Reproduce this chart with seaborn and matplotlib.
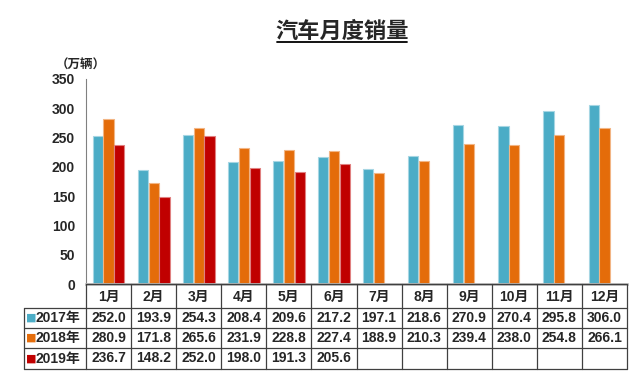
import numpy as np
import pandas as pd
import matplotlib
matplotlib.use("Agg")
import matplotlib.pyplot as plt
import seaborn as sns

months = ["1月", "2月", "3月", "4月", "5月", "6月", "7月", "8月", "9月", "10月", "11月", "12月"]
years = ["2017年", "2018年", "2019年"]
sales_2017 = [252.0, 193.9, 254.3, 208.4, 209.6, 217.2, 197.1, 218.6, 270.9, 270.4, 295.8, 306.0]
sales_2018 = [280.9, 171.8, 265.6, 231.9, 228.8, 227.4, 188.9, 210.3, 239.4, 238.0, 254.8, 266.1]
sales_2019 = [236.7, 148.2, 252.0, 198.0, 191.3, 205.6, None, None, None, None, None, None]
colors = ["#4BACC6", "#E46C0A", "#C00000"]
edges = ["#A6D6E3", "#F2B584", "#E08080"]

rows = []
for yr, vals in zip(years, [sales_2017, sales_2018, sales_2019]):
    for m, v in zip(months, vals):
        rows.append({"month": m, "year": yr, "sales": np.nan if v is None else v})
df = pd.DataFrame(rows)

sns.set_style("white")
plt.rcParams["font.family"] = ["Liberation Sans", "Noto Sans CJK SC", "DejaVu Sans"]
plt.rcParams["font.weight"] = "bold"

W, H = 640, 389
fig = plt.figure(figsize=(6.4, 3.89), dpi=100)
L, R = 86, 627
ax = fig.add_axes([L / W, 1 - 284 / H, (R - L) / W, (284 - 79) / H])

sns.barplot(data=df, x="month", y="sales", hue="year", order=months, hue_order=years,
            palette=colors, saturation=1, width=0.72, gap=0.06, errorbar=None,
            legend=False, ax=ax)
for i, cont in enumerate(ax.containers):
    for p in cont:
        p.set_edgecolor(edges[i])
        p.set_linewidth(0.8)

ax.set_xlim(-0.5, 11.5)
ax.set_ylim(0, 350)
ax.set_yticks(range(0, 351, 50))
ax.set_xticks([])
ax.set_xlabel("")
ax.set_ylabel("")
for s in ["top", "right"]:
    ax.spines[s].set_visible(False)
ax.spines["left"].set_color("#808080")
ax.spines["bottom"].set_color("#BFBFBF")
ax.spines["bottom"].set_linewidth(2)
ax.tick_params(axis="y", direction="out", length=3, width=1, color="#808080",
               labelsize=10, pad=5)
for t in ax.get_yticklabels():
    t.set_fontweight("bold")

fig.text(106 / W, 1 - 65 / H, "（万辆）", ha="right", va="center", fontsize=9,
         family=["Noto Sans CJK SC", "DejaVu Sans"])

# title with underline
fig.text(342 / W, 1 - 31 / H, "汽车月度销量", ha="center", va="center",
         fontsize=16, fontweight="bold", family=["Noto Sans CJK SC", "DejaVu Sans"])
fig.add_artist(plt.Line2D([277 / W, 407 / W], [1 - 42 / H, 1 - 42 / H], color="black", lw=1.3))

# data table
tab = fig.add_axes([L / W, 1 - 369 / H, (R - L) / W, (369 - 284) / H])
tab.set_xlim(-0.5, 11.5)
tab.set_ylim(85, 0)
tab.axis("off")
lab_left = -0.5 - (L - 24) / ((R - L) / 12)
ys = [0, 24, 44, 64, 85]
lc = "#404040"
for k, y in enumerate(ys):
    x0 = -0.5 if k == 0 else lab_left
    tab.plot([x0, 11.5], [y, y], color=lc, lw=0.9, clip_on=False)
for i in range(13):
    tab.plot([i - 0.5, i - 0.5], [0, 85], color=lc, lw=0.9, clip_on=False)
tab.plot([lab_left, lab_left], [24, 85], color=lc, lw=0.9, clip_on=False)

for i, m in enumerate(months):
    tab.text(i, 12.5, m, ha="center", va="center", fontsize=10, fontweight="bold")
for r, (yr, vals) in enumerate(zip(years, [sales_2017, sales_2018, sales_2019])):
    yc = (ys[r + 1] + ys[r + 2]) / 2
    tab.text(lab_left + 0.05, yc, "■", color=colors[r], ha="left", va="center",
             fontsize=8, family=["DejaVu Sans"], clip_on=False)
    tab.text(lab_left + 0.26, yc, yr, ha="left", va="center", fontsize=10,
             fontweight="bold", clip_on=False)
    for i, v in enumerate(vals):
        if v is not None:
            tab.text(i, yc, f"{v:.1f}", ha="center", va="center", fontsize=10,
                     fontweight="bold")

fig.savefig("out.png", dpi=100)
